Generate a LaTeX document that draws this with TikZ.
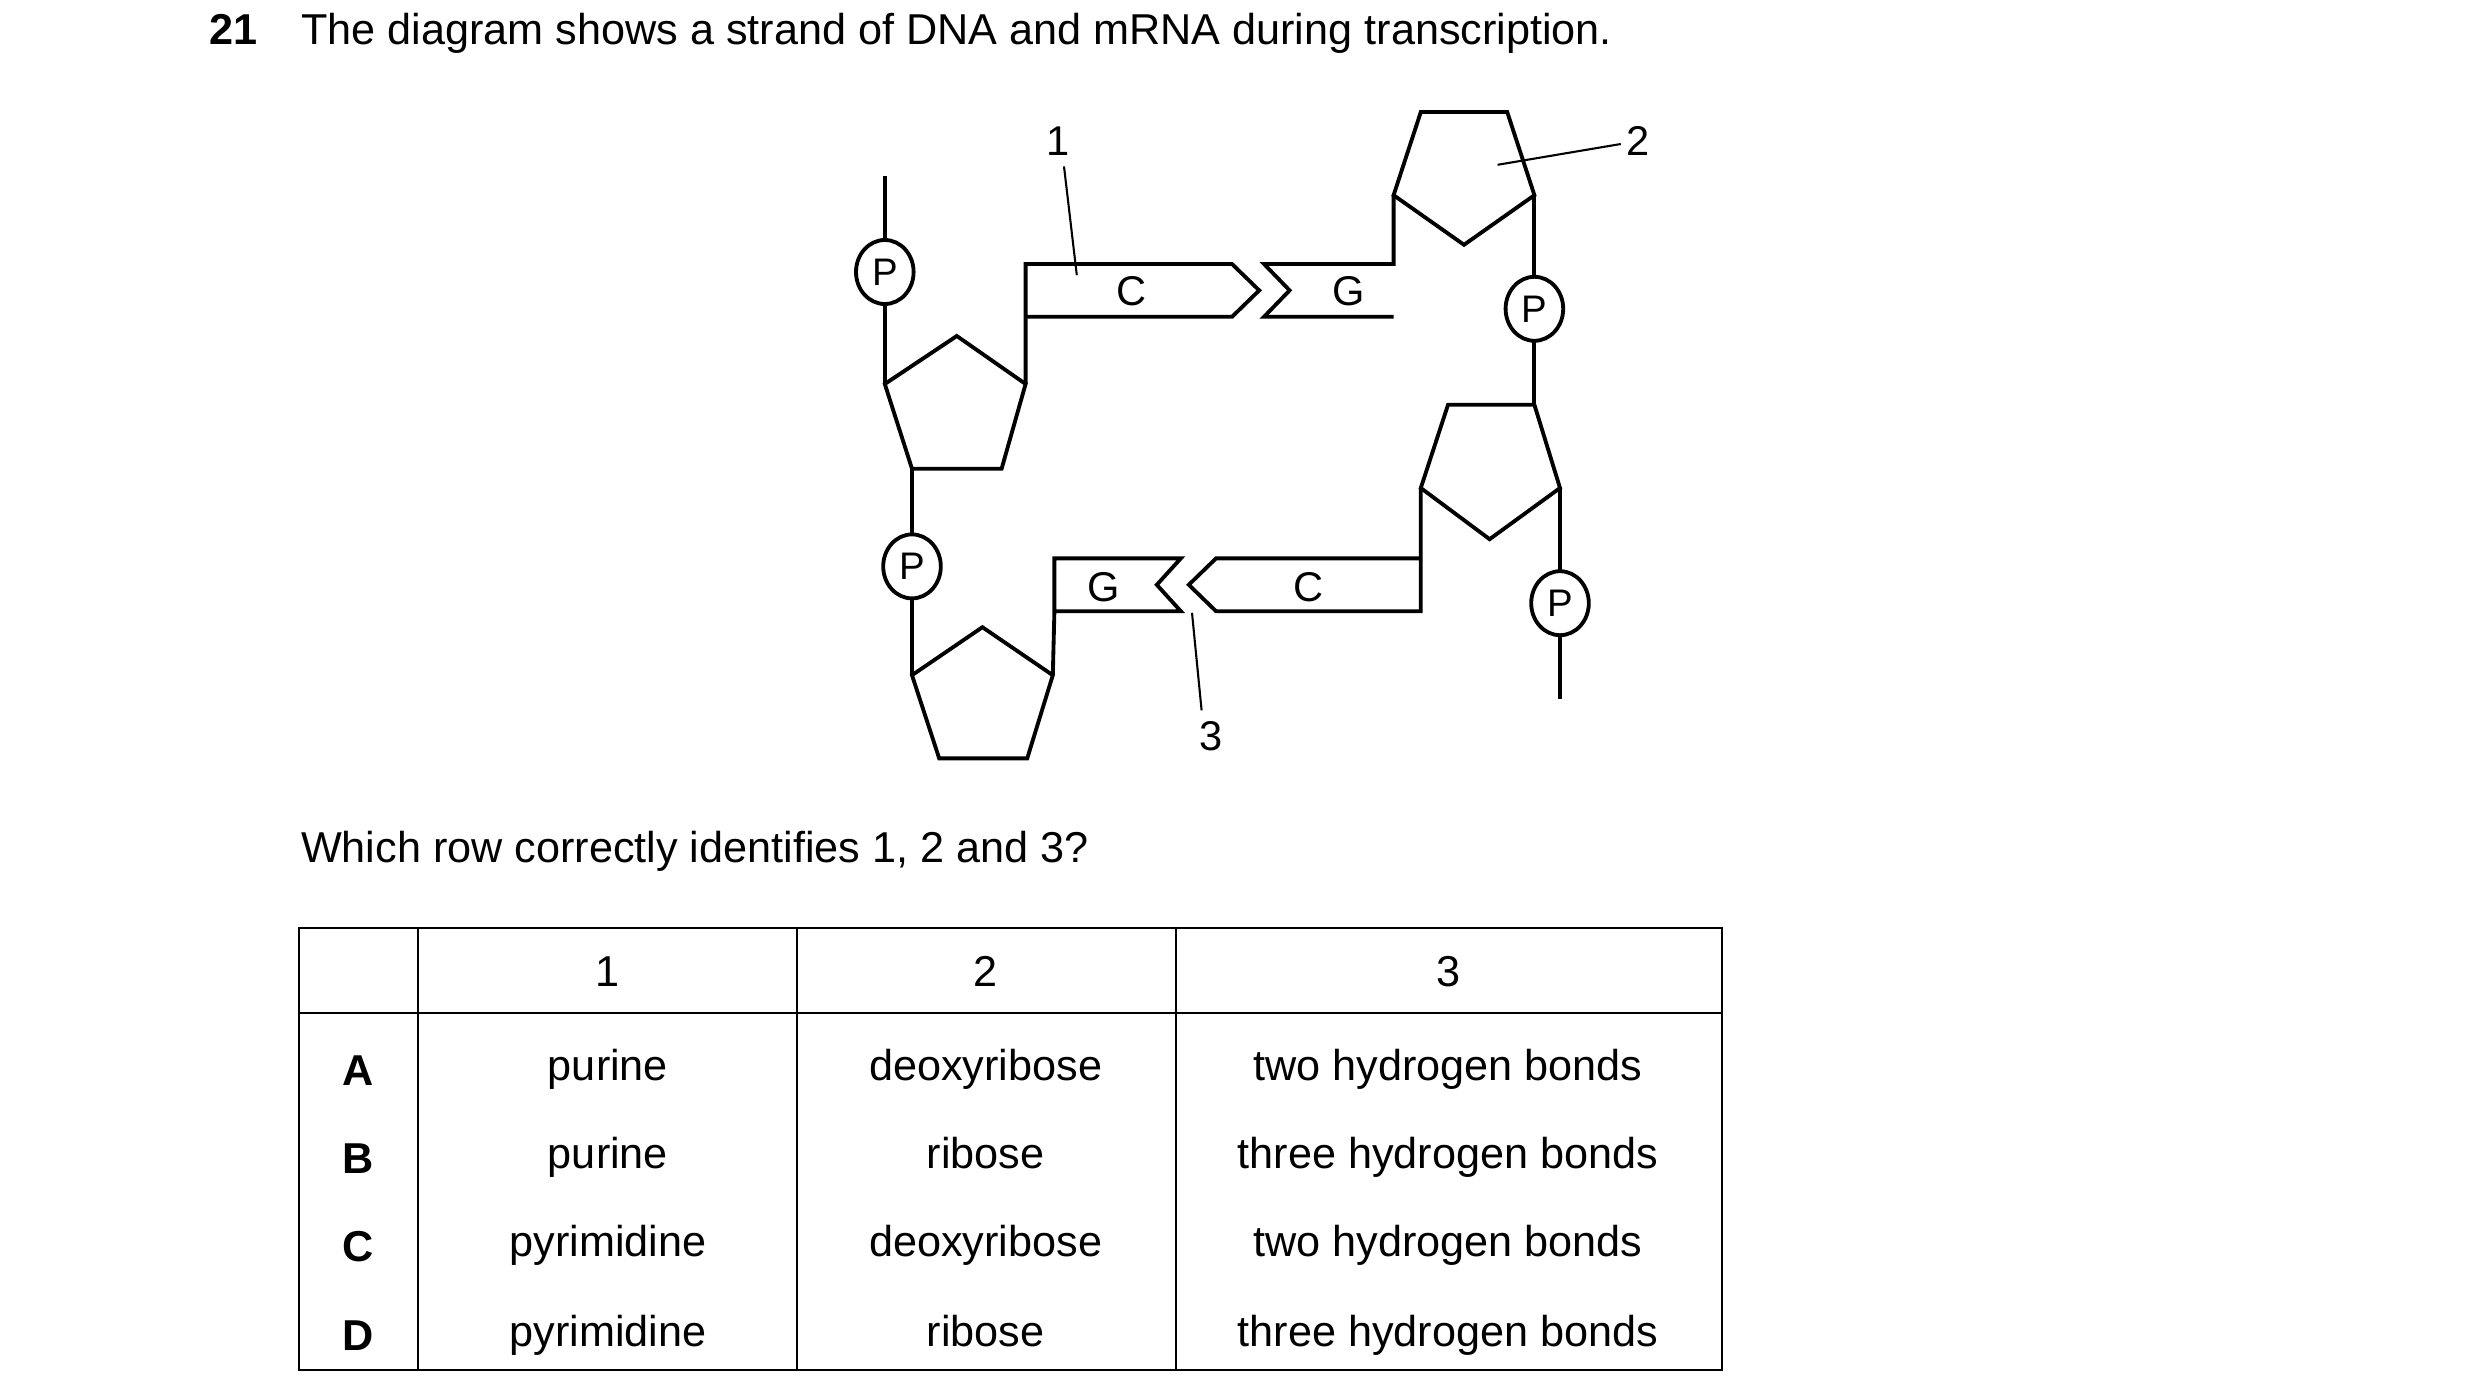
\documentclass[tikz,border=0pt]{standalone}
\usepackage{fontspec}
\setmainfont{Liberation Sans}
\usetikzlibrary{shapes.geometric}
\begin{document}
\begin{tikzpicture}[x=1pt,y=-1pt,line width=2.4pt,line join=miter,
  txt/.style={font=\fontsize{27}{32}\selectfont,inner sep=0pt},
  lbl/.style={font=\fontsize{26}{30}\selectfont,inner sep=0pt},
  pc/.style={draw,ellipse,minimum width=36pt,minimum height=40pt,inner sep=0pt,font=\fontsize{24}{28}\selectfont,fill=white},
  thin/.style={line width=1.3pt}]
\useasboundingbox (0,0) rectangle (1550,872);
% header
\node[txt,anchor=base west,font=\fontsize{27}{32}\selectfont\bfseries] (num) at (130,28) {21};
\node[txt,anchor=base west] (q) at (187,28) {The diagram shows a strand of DNA and mRNA during transcription.};
% left strand
\draw (553,110) -- (553,240);
\draw (553,240) -- (598,210) -- (641,240) -- (626,293) -- (570,293) -- cycle;
\node[pc] (p1) at (553,170) {P};
\draw (570,293) -- (570,422);
\node[pc] (p2) at (570,354) {P};
\draw (570,422) -- (614,392) -- (658,422) -- (642,474) -- (587,474) -- cycle;
% upper C box
\draw (641,240) -- (641,165) -- (770,165) -- (787,181.5) -- (770,198) -- (641,198);
\node[lbl] (c1) at (707,182) {C};
% upper G box
\draw (871,198) -- (790,198) -- (806,181.5) -- (790,165) -- (871,165) -- (871,122);
\node[lbl] (g1) at (843,182) {G};
% pentagon 2 (point down)
\draw (871,122) -- (888,70) -- (942,70) -- (959,122) -- (915,153) -- cycle;
% right strand
\draw (959,122) -- (959,253);
\node[pc] (p3) at (959,193) {P};
\draw (959,253) -- (905,253) -- (888,305) -- (931,337) -- (975,305) -- cycle;
\draw (975,305) -- (975,437);
\node[pc] (p4) at (975,377) {P};
% lower C box
\draw (888,305) -- (888,382) -- (760,382) -- (743,365.5) -- (760,349) -- (888,349);
\node[lbl] (c2) at (818,367) {C};
% lower G box
\draw (658,422) -- (659,382) -- (738,382) -- (723,365.5) -- (738,349) -- (659,349) -- (659,382);
\node[lbl] (g2) at (690,367) {G};
% labels
\node[lbl] (l1) at (661,88) {1};
\coordinate (t1) at (673,172);
\draw[thin] (665,104) -- (t1);
\node[lbl] (l2) at (1024,88) {2};
\coordinate (t2) at (936,103);
\draw[thin] (1013,90) -- (t2);
\node[lbl] (l3) at (757,460) {3};
\coordinate (t3) at (745,383);
\draw[thin] (751,444) -- (t3);
% question
\node[txt,anchor=base west] (w) at (187,539) {Which row correctly identifies 1, 2 and 3?};
% table
\begin{scope}[line width=1.3pt]
\draw (187,580) rectangle (1076,856);
\draw (187,633) -- (1076,633);
\foreach \x in {261,498,735} \draw (\x,580) -- (\x,856);
\end{scope}
\foreach \x/\t in {380/1,616/2,905/3} \node[txt] at (\x,607) {\t};
\foreach \y/\L/\a/\b/\c in {669/A/purine/deoxyribose/two hydrogen bonds,
  724/B/purine/ribose/three hydrogen bonds,
  779/C/pyrimidine/deoxyribose/two hydrogen bonds,
  835/D/pyrimidine/ribose/three hydrogen bonds}{
  \node[txt,font=\fontsize{27}{32}\selectfont\bfseries] at (224,\y) {\L};
  \node[txt] at (380,\y) {\strut\a};
  \node[txt] at (616,\y) {\strut\b};
  \node[txt] at (905,\y) {\strut\c};
}
\end{tikzpicture}
\end{document}
